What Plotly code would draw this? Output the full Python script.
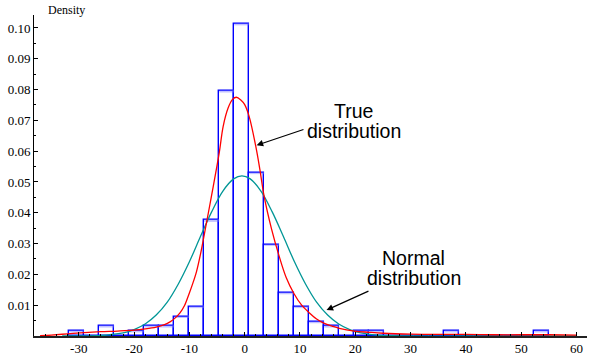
import plotly.graph_objects as go

# ---------------- data ----------------
bin_start = -31.74
bin_width = 2.713
density = [0.0016, 0.0, 0.0032, 0.0, 0.0016, 0.0032, 0.0032, 0.0063, 0.0095,
           0.0375, 0.0795, 0.1013, 0.0530, 0.0297, 0.0140, 0.0095, 0.0046,
           0.0032, 0.0, 0.0016, 0.0016, 0.0, 0.0, 0.0, 0.0, 0.0016, 0.0, 0.0,
           0.0, 0.0, 0.0, 0.0016]

true_x = [-37, -35, -32, -29, -26, -23, -20, -18, -16, -14.5, -13.5, -12.6,
          -11.7, -10.9, -10.1, -9.4, -8.7, -8.0, -7.3, -6.0, -4.6, -3.9, -3.0,
          -2.2, -1.5, -0.7, 0.0, 0.8, 2.0, 2.75, 3.5, 4.86, 6.2, 7.5, 8.9,
          10.3, 11.7, 13.0, 14.4, 15.8, 17.1, 19.8, 22.5, 25, 30, 35, 40, 45,
          50, 55, 60]
true_y = [0.0001, 0.0003, 0.0007, 0.0011, 0.0014, 0.0016, 0.0019, 0.0023,
          0.0029, 0.0037, 0.0046, 0.0058, 0.0075, 0.0098, 0.0135, 0.0170,
          0.0210, 0.0265, 0.0330, 0.0455, 0.0595, 0.0680, 0.0740, 0.0768,
          0.0775, 0.0766, 0.0751, 0.0713, 0.0616, 0.0540, 0.0455, 0.0347,
          0.0261, 0.0190, 0.0138, 0.0100, 0.0075, 0.0055, 0.0041, 0.0032,
          0.0025, 0.0016, 0.0012, 0.0009, 0.0006, 0.0005, 0.0005, 0.0004,
          0.0004, 0.0004, 0.0003]

normal_x = [-33, -30, -27, -25, -22, -20, -18, -16, -14, -12, -10, -8, -6,
            -4, -2, -0.5, 1, 3, 5, 7, 9, 11, 13, 15, 17, 19, 21, 24, 27, 30,
            40, 50, 60]
normal_y = [0.0000, 0.0000, 0.0001, 0.0003, 0.0010, 0.0021, 0.0039, 0.0068,
            0.0110, 0.0169, 0.0241, 0.0323, 0.0402, 0.0469, 0.0510, 0.0520,
            0.0510, 0.0469, 0.0402, 0.0323, 0.0241, 0.0169, 0.0110, 0.0068,
            0.0039, 0.0021, 0.0010, 0.0003, 0.0001, 0.0, 0.0, 0.0, 0.0]

x_tick_vals = [-30, -20, -10, 0, 10, 20, 30, 40, 50, 60]
x_tick_text = ["-30", "-20", "-10", "0", "10", "20", "30", "40", "50", "60"]
y_tick_vals = [0.01, 0.02, 0.03, 0.04, 0.05, 0.06, 0.07, 0.08, 0.09, 0.10]
y_tick_text = ["0.01", "0.02", "0.03", "0.04", "0.05", "0.06", "0.07", "0.08",
               "0.09", "0.10"]

# ---------------- figure ----------------
centers = [bin_start + bin_width * (i + 0.5) for i in range(len(density))]

# light-blue top highlight of bars
hx, hy = [], []
for c, d in zip(centers, density):
    if d > 0:
        hx += [c - bin_width / 2, c + bin_width / 2, None]
        hy += [d, d, None]

fig = go.Figure()
fig.add_trace(go.Scatter(x=hx, y=hy, mode="lines",
                         line=dict(color="rgba(120,120,255,0.45)", width=2.8),
                         hoverinfo="skip", showlegend=False))
fig.add_trace(go.Bar(x=centers, y=density, width=bin_width,
                     marker=dict(color="rgba(0,0,0,0)",
                                 line=dict(color="#0000ff", width=1.4)),
                     showlegend=False))
fig.add_trace(go.Scatter(x=normal_x, y=normal_y, mode="lines",
                         line=dict(color="rgb(0,150,150)", width=1.3,
                                   shape="spline", smoothing=1.0),
                         showlegend=False))
fig.add_trace(go.Scatter(x=true_x, y=true_y, mode="lines",
                         line=dict(color="#ff0000", width=1.3,
                                   shape="spline", smoothing=1.0),
                         showlegend=False))

serif = "Liberation Serif, Times New Roman, serif"
sans = "Liberation Sans, Arial, sans-serif"

annotations = [
    dict(text="Density", xref="paper", yref="paper", x=0.022, y=1.016,
         xanchor="left", yanchor="middle", showarrow=False,
         font=dict(family=serif, size=12, color="black")),
    dict(text="True", xref="x", yref="y", x=19.75, y=0.0731,
         showarrow=False, font=dict(family=sans, size=19.5, color="black")),
    dict(text="distribution", xref="x", yref="y", x=19.75, y=0.0666,
         showarrow=False, font=dict(family=sans, size=19.5, color="black")),
    dict(text="Normal", xref="x", yref="y", x=30.6, y=0.02525,
         showarrow=False, font=dict(family=sans, size=19.5, color="black")),
    dict(text="distribution", xref="x", yref="y", x=30.6, y=0.01875,
         showarrow=False, font=dict(family=sans, size=19.5, color="black")),
    dict(text="", xref="x", yref="y", x=2.15, y=0.0619, axref="x", ayref="y",
         ax=10.9, ay=0.0672, showarrow=True, arrowhead=2, arrowsize=1.1,
         arrowwidth=1.2, arrowcolor="black"),
    dict(text="", xref="x", yref="y", x=14.8, y=0.0084, axref="x", ayref="y",
         ax=22.65, ay=0.0148, showarrow=True, arrowhead=2, arrowsize=1.1,
         arrowwidth=1.2, arrowcolor="black"),
]

fig.update_layout(
    width=589, height=358,
    margin=dict(l=34, r=2, t=15, b=20),
    paper_bgcolor="white", plot_bgcolor="white",
    bargap=0, showlegend=False,
    annotations=annotations,
    xaxis=dict(range=[-38.1, 61.9], showgrid=False, zeroline=False,
               showline=True, linecolor="#222", linewidth=1.5,
               tickmode="array", tickvals=x_tick_vals, ticktext=x_tick_text,
               ticks="inside", ticklen=4, tickcolor="black", tickwidth=1,
               minor=dict(dtick=2, tick0=0, ticks="inside", ticklen=2,
                          tickcolor="black", showgrid=False),
               tickfont=dict(family=serif, size=13, color="black")),
    yaxis=dict(range=[0, 0.1042], showgrid=False, zeroline=False,
               showline=True, linecolor="black", linewidth=1,
               tickmode="array", tickvals=y_tick_vals, ticktext=y_tick_text,
               ticks="inside", ticklen=4, tickcolor="black", tickwidth=1,
               minor=dict(dtick=0.005, tick0=0, ticks="inside", ticklen=2,
                          tickcolor="black", showgrid=False),
               tickfont=dict(family=serif, size=13, color="black")),
)

fig.write_html("out.html",
               config={"displayModeBar": False},
               post_script="document.body.style.margin='0';"
                           "document.body.style.overflow='hidden';")
